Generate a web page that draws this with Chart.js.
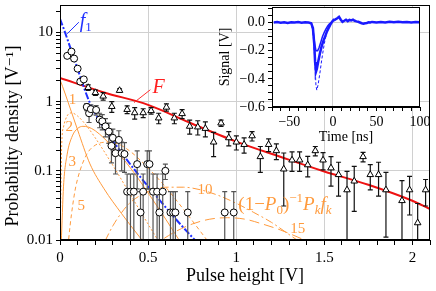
<!DOCTYPE html>
<html lang="en">
<head>
<meta charset="UTF-8">
<title>Pulse height distribution</title>
<script src="https://cdn.jsdelivr.net/npm/chart.js"></script>
<style>
  body { margin: 0; background: #fff; }
  #wrap { position: relative; width: 436px; height: 291px; }
  #wrap canvas { position: absolute; left: 0; top: 0; }
</style>
</head>
<body>
<div id="wrap">
  <canvas id="main" width="436" height="291"></canvas>
  <canvas id="inset" width="436" height="291"></canvas>
</div>
<script>
// open circles with error bars
const circX = [0.041, 0.065, 0.080, 0.100, 0.115, 0.135, 0.152, 0.165, 0.175, 0.205, 0.225, 0.240, 0.258,
  0.277, 0.292, 0.300, 0.315, 0.334, 0.350, 0.366, 0.381, 0.400, 0.419, 0.438, 0.457, 0.472, 0.495,
  0.508, 0.528, 0.551, 0.564, 0.583, 0.598, 0.627, 0.642, 0.655, 0.725, 0.935, 0.986];
const circY = [4.6, 5.3, 4.2, 3.0, 1.95, 2.1, 0.84, 0.68, 0.78, 0.76, 0.55, 0.52, 0.44,
  0.37, 0.23, 0.30, 0.18, 0.28, 0.18, 0.175, 0.05, 0.05, 0.05, 0.125, 0.025, 0.05, 0.125,
  0.125, 0.05, 0.05, 0.025, 0.05, 0.1, 0.025, 0.025, 0.025, 0.025, 0.025, 0.025];
const circErr = [0, 0, 0, 0, 0, 0, 0.1, 0.18, 0.12, 0.12, 0.13, 0.13, 0.13,
  0.12, 0.1, 0.1, 0.09, 0.1, 0.08, 0.08, 0.04, 0.04, 0.04, 0.07, 0.025, 0.04, 0.07,
  0.07, 0.04, 0.04, 0.025, 0.04, 0.025, 0.025, 0.025, 0.025, 0.025, 0.025, 0.025];

// open triangles with error bars
const triX = [0.116, 0.160, 0.201, 0.245, 0.294, 0.338, 0.381, 0.424, 0.472, 0.517, 0.560, 0.604,
  0.649, 0.693, 0.736, 0.782, 0.825, 0.872, 0.914, 0.958, 1.001, 1.045, 1.090, 1.137, 1.184, 1.228,
  1.270, 1.317, 1.360, 1.406, 1.449, 1.493, 1.538, 1.581, 1.629, 1.670, 1.720, 1.761, 1.808, 1.850,
  1.941, 1.984, 2.030, 2.075];
const triY = [1.95, 1.6, 1.35, 1.2, 0.85, 1.45, 0.77, 0.69, 0.69, 0.74, 0.58, 0.83,
  0.58, 0.67, 0.44, 0.43, 0.41, 0.26, 0.49, 0.30, 0.26, 0.24, 0.32, 0.16, 0.24, 0.195,
  0.106, 0.143, 0.143, 0.122, 0.195, 0.143, 0.11, 0.088, 0.053, 0.071, 0.16, 0.088, 0.088, 0.053,
  0.037, 0.053, 0.0177, 0.053];
const triErr = [0.15, 0.15, 0.12, 0.15, 0.15, 0.08, 0.1, 0.13, 0.1, 0.08, 0.1, 0.1,
  0.1, 0.1, 0.1, 0.1, 0.1, 0.1, 0.05, 0.07, 0.06, 0.06, 0.05, 0.065, 0.05, 0.05,
  0.075, 0.045, 0.045, 0.04, 0.03, 0.04, 0.05, 0.045, 0.045, 0.045, 0.025, 0.035, 0.045, 0.042,
  0.035, 0.03, 0.016, 0.022];

// F (red) and f1 (blue)
const bigFX = [0, 0.25, 0.5, 0.75, 1.0, 1.25, 1.5, 1.75, 2.0, 2.1];
const bigFY = [2.2, 1.36, 0.9, 0.48, 0.265, 0.16, 0.098, 0.063, 0.037, 0.028];
const f1X = [0, 0.03, 0.1, 0.17, 0.25, 0.35, 0.45, 0.55, 0.65, 0.765];
const f1Y = [15.8, 9.8, 2.95, 0.955, 0.417, 0.182, 0.085, 0.042, 0.021, 0.01];

// orange components (1-P0)^-1 Pk fk
const k1X = [0, 0.03, 0.1, 0.17, 0.25, 0.35, 0.45, 0.55];
const k1Y = [2.09, 1.29, 0.39, 0.126, 0.055, 0.024, 0.0112, 0.0055];
const k2X = [0.0003, 0.01, 0.02, 0.04, 0.065, 0.1, 0.15, 0.2, 0.3, 0.4, 0.5, 0.6];
const k2Y = [0.009, 0.25, 0.43, 0.62, 0.69, 0.62, 0.45, 0.3, 0.12, 0.045, 0.017, 0.0065];
const k3X = [0.007, 0.02, 0.04, 0.07, 0.1, 0.13, 0.16, 0.2, 0.3, 0.4, 0.5, 0.6, 0.7];
const k3Y = [0.009, 0.06, 0.17, 0.32, 0.41, 0.44, 0.43, 0.38, 0.22, 0.11, 0.048, 0.02, 0.008];
const k5X = [0.04, 0.05, 0.08, 0.1, 0.15, 0.2, 0.27, 0.33, 0.4, 0.5, 0.6, 0.7, 0.8, 0.9];
const k5Y = [0.0051, 0.0107, 0.0433, 0.0767, 0.17, 0.235, 0.26, 0.245, 0.19, 0.11, 0.058, 0.028, 0.013, 0.006];
const k10X = [0.22, 0.25, 0.3, 0.35, 0.4, 0.5, 0.6, 0.7, 0.8, 0.9, 1.0, 1.1, 1.2, 1.3, 1.4];
const k10Y = [0.006, 0.009, 0.016, 0.025, 0.035, 0.05, 0.058, 0.058, 0.053, 0.044, 0.034, 0.025, 0.018, 0.012, 0.008];
const k15X = [0.45, 0.55, 0.65, 0.75, 0.85, 0.95, 1.05, 1.15, 1.25, 1.35, 1.45, 1.55];
const k15Y = [0.006, 0.009, 0.013, 0.017, 0.02, 0.021, 0.02, 0.017, 0.014, 0.011, 0.0085, 0.0065];

// axis ticks
const xTicks = [0, 0.1, 0.2, 0.3, 0.4, 0.5, 0.6, 0.7, 0.8, 0.9, 1, 1.1, 1.2, 1.3, 1.4, 1.5, 1.6, 1.7, 1.8, 1.9, 2, 2.1];
const xLabels = { 0: '0', 0.5: '0.5', 1: '1', 1.5: '1.5', 2: '2' };
const yTicks = [0.01, 0.02, 0.03, 0.04, 0.05, 0.06, 0.07, 0.08, 0.09,
  0.1, 0.2, 0.3, 0.4, 0.5, 0.6, 0.7, 0.8, 0.9, 1, 2, 3, 4, 5, 6, 7, 8, 9, 10, 20];
const yLabels = { 0.01: '0.01', 0.1: '0.1', 1: '1', 10: '10' };

// inset: signal traces
const sigT = [-68, -64, -60, -56, -52, -48, -44, -40, -36, -32, -28, -25, -23, -21.5, -20.5, -19.5, -18.5,
  -17, -15, -13, -11, -9, -7, -5, -3, -1, 1, 3, 5, 7, 9, 11, 13, 15, 17, 19, 21, 23, 25, 27, 29, 31,
  33, 35, 37, 39, 41, 43, 45, 50, 55, 60, 65, 70, 75, 80, 85, 90, 95, 100];
const sigV = [0, 0.003, -0.002, 0.002, -0.003, 0.002, 0, 0.003, -0.002, 0.002, 0, -0.005, -0.04, -0.15, -0.28, -0.35, -0.33,
  -0.28, -0.22, -0.17, -0.13, -0.10, -0.065, -0.04, -0.015, 0.005, 0.02, 0.022, 0.03, 0.04, 0.02, 0.005, 0.012, 0.02, 0.01, 0.018, 0.015, 0.02, 0.012, 0.008, 0.005, 0,
  -0.005, -0.008, -0.005, -0.003, 0.002, 0, 0.004, 0, 0.003, 0, 0.005, 0.002, 0.006, 0.002, 0.004, 0, 0.003, 0.002];
const sig2T = [-25, -23, -21, -19.5, -17.5, -16, -14, -12, -10, -8, -6, -4, -2, 0];
const sig2V = [0, -0.05, -0.15, -0.2, -0.2, -0.18, -0.14, -0.1, -0.07, -0.045, -0.025, -0.01, 0, 0.01];
const sig3T = [-25, -23, -21, -19.5, -18.5, -17, -15, -13, -11, -9, -7, -5, -3, -1, 1, 3];
const sig3V = [0, -0.06, -0.25, -0.45, -0.48, -0.44, -0.36, -0.27, -0.19, -0.12, -0.07, -0.03, -0.01, 0, 0.01, 0.015];
const insetXTicks = [-70, -60, -50, -40, -30, -20, -10, 0, 10, 20, 30, 40, 50, 60, 70, 80, 90, 100];
const insetYTicks = [-0.6, -0.55, -0.5, -0.45, -0.4, -0.35, -0.3, -0.25, -0.2, -0.15, -0.1, -0.05, 0, 0.05, 0.1];

const SERIF = '"Liberation Serif", "DejaVu Serif", serif';
Chart.defaults.font.family = SERIF;
Chart.defaults.color = '#000';

const ORANGE = '#ff9a3c';
const NONE = 'rgba(0,0,0,0)';
const pts = (xs, ys) => xs.map((x, i) => ({ x, y: ys[i] }));
const minus = v => (v < 0 ? '\u2212' : '') + Math.abs(v);
const noPad = s => { s.paddingTop = 0; s.paddingBottom = 0; s.paddingLeft = 0; s.paddingRight = 0; };

function lineSet(xs, ys, color, width, dash, order, smooth) {
  return {
    data: pts(xs, ys), showLine: true, borderColor: color, borderWidth: width,
    borderDash: dash, pointRadius: 0, fill: false, order,
    cubicInterpolationMode: smooth ? 'monotone' : 'default'
  };
}

function drawRich(ctx, x, y, parts, color) {
  ctx.save();
  ctx.fillStyle = color;
  ctx.textAlign = 'left';
  ctx.textBaseline = 'alphabetic';
  for (const [txt, size, italic, dy] of parts) {
    ctx.font = (italic ? 'italic ' : '') + size + 'px ' + SERIF;
    ctx.fillText(txt, x, y + dy);
    x += ctx.measureText(txt).width;
  }
  ctx.restore();
}

const frame = {
  id: 'frame',
  afterDraw(chart) {
    const { ctx, chartArea: a } = chart;
    ctx.save();
    ctx.strokeStyle = '#000';
    ctx.lineWidth = 1;
    ctx.strokeRect(Math.round(a.left) + 0.5, Math.round(a.top) + 0.5,
      Math.round(a.right - a.left) - 1, Math.round(a.bottom - a.top) - 1);
    ctx.restore();
  }
};

const errBars = {
  id: 'errBars',
  beforeDatasetDraw(chart, args) {
    let xs, ys, es, color;
    if (args.index === 0) { xs = circX; ys = circY; es = circErr; color = '#555'; }
    else if (args.index === 1) { xs = triX; ys = triY; es = triErr; color = '#111'; }
    else return;
    const { ctx, chartArea: a, scales: { x, y } } = chart;
    ctx.save();
    ctx.beginPath();
    ctx.rect(a.left, a.top, a.right - a.left, a.bottom - a.top);
    ctx.clip();
    ctx.strokeStyle = color;
    ctx.lineWidth = 1.2;
    xs.forEach((xv, i) => {
      if (!es[i]) return;
      const px = x.getPixelForValue(xv);
      const lo = ys[i] - es[i];
      const pLo = lo > 0.0101 ? y.getPixelForValue(lo) : a.bottom + 2;
      const pHi = y.getPixelForValue(ys[i] + es[i]);
      ctx.beginPath();
      ctx.moveTo(px, pLo); ctx.lineTo(px, pHi);
      ctx.moveTo(px - 2.5, pHi); ctx.lineTo(px + 2.5, pHi);
      if (lo > 0.0101) { ctx.moveTo(px - 2.5, pLo); ctx.lineTo(px + 2.5, pLo); }
      ctx.stroke();
    });
    ctx.restore();
  }
};

const labels = {
  id: 'labels',
  afterDatasetsDraw(chart) {
    const { ctx, scales: { x, y } } = chart;
    const X = v => x.getPixelForValue(v), Y = v => y.getPixelForValue(v);
    // leaders
    ctx.save();
    ctx.lineWidth = 1;
    ctx.strokeStyle = '#2233ff';
    ctx.beginPath(); ctx.moveTo(X(0.041), Y(9.6)); ctx.lineTo(X(0.107), Y(14.1)); ctx.stroke();
    ctx.strokeStyle = '#ff3030';
    ctx.beginPath(); ctx.moveTo(X(0.42), Y(0.97)); ctx.lineTo(X(0.513), Y(1.49)); ctx.stroke();
    ctx.restore();
    drawRich(ctx, X(0.112), Y(12), [['f', 20, true, 0], ['1', 13, false, 4]], '#2233ff');
    drawRich(ctx, X(0.525), Y(1.32), [['F', 20, true, 0]], '#ff2020');
    const o = [[0.049, 0.92, '1'], [0.031, 0.376, '2'], [0.048, 0.119, '3'], [0.1, 0.0268, '5'],
      [0.78, 0.047, '10'], [1.307, 0.0126, '15']];
    o.forEach(([a, b, t]) => drawRich(ctx, X(a), Y(b), [[t, 15, false, 0]], ORANGE));
    drawRich(ctx, X(1.012), Y(0.0268), [
      ['(1\u2212', 19, false, 0], ['P', 19, true, 0], ['0', 13, false, 4], [')', 19, false, 0],
      ['\u22121', 13, false, -8], ['P', 19, true, 0], ['k', 13, true, 4], ['f', 19, true, 0], ['k', 13, true, 4]
    ], ORANGE);
  }
};

new Chart(document.getElementById('main'), {
  type: 'scatter',
  data: {
    datasets: [
      { data: pts(circX, circY), pointStyle: 'circle', pointRadius: 3.5, pointBackgroundColor: '#fff',
        pointBorderColor: '#000', pointBorderWidth: 1, order: 0 },
      { data: pts(triX, triY), pointStyle: 'triangle', pointRadius: 3.8, pointBackgroundColor: '#fff',
        pointBorderColor: '#000', pointBorderWidth: 1, order: 1 },
      lineSet(f1X, f1Y, '#1f2fff', 2, [7, 2, 2, 2], 2, true),
      lineSet(bigFX, bigFY, '#ee1111', 2, [], 3, true),
      lineSet(k1X, k1Y, ORANGE, 1, [], 4, true),
      lineSet(k2X, k2Y, ORANGE, 1, [2, 2], 5, true),
      lineSet(k3X, k3Y, ORANGE, 1, [], 6, true),
      lineSet(k5X, k5Y, ORANGE, 1, [4, 3], 7, true),
      lineSet(k10X, k10Y, ORANGE, 1, [8, 3, 2, 3], 8, true),
      lineSet(k15X, k15Y, ORANGE, 1, [10, 5], 9, true)
    ]
  },
  options: {
    responsive: false,
    animation: false,
    layout: { padding: { left: 0, top: 3, right: 6, bottom: 0 } },
    plugins: { legend: { display: false }, tooltip: { enabled: false } },
    scales: {
      x: {
        type: 'linear', min: 0, max: 2.1, bounds: 'data',
        afterBuildTicks: s => { s.ticks = xTicks.map(v => ({ value: v })); },
        afterFit: s => { s.height = 51; noPad(s); },
        grid: {
          color: c => (c.tick && xLabels[c.tick.value] && c.tick.value > 0) ? '#d0d0d0' : NONE,
          tickColor: '#000', tickLength: 5
        },
        border: { color: '#000' },
        ticks: { autoSkip: false, maxRotation: 0, padding: 4, font: { size: 15 },
          callback: v => xLabels[v] || '' },
        title: { display: true, text: 'Pulse height [V]', font: { size: 18 }, padding: { top: 0, bottom: 4 } }
      },
      y: {
        type: 'logarithmic', min: 0.01, max: 25, bounds: 'data',
        afterBuildTicks: s => { s.ticks = yTicks.map(v => ({ value: v })); },
        afterFit: s => { s.width = 60; noPad(s); },
        grid: {
          color: c => (c.tick && yLabels[c.tick.value] && c.tick.value > 0.01) ? '#d0d0d0' : NONE,
          tickColor: '#000', tickLength: 4
        },
        border: { color: '#000' },
        ticks: { autoSkip: false, padding: 3, font: { size: 15 }, callback: v => yLabels[v] || '' },
        title: { display: true, text: 'Probability density [V\u207B\u00B9]\u2002\u2002\u2002',
          font: { size: 18 }, padding: { top: 2, bottom: 0 } }
      }
    }
  },
  plugins: [errBars, labels, frame]
});

const whiteArea = {
  id: 'whiteArea',
  beforeDraw(chart) {
    const { ctx, chartArea: a } = chart;
    ctx.save();
    ctx.fillStyle = '#fff';
    ctx.fillRect(a.left, a.top, a.right - a.left, a.bottom - a.top);
    ctx.restore();
  }
};

new Chart(document.getElementById('inset'), {
  type: 'scatter',
  data: {
    datasets: [
      lineSet(sigT, sigV, '#1a1aff', 2.5, [], 0, false),
      lineSet(sig2T, sig2V, '#1a1aff', 1.5, [], 1, false),
      lineSet(sig3T, sig3V, '#1a1aff', 1, [3, 2], 2, false)
    ]
  },
  options: {
    responsive: false,
    animation: false,
    layout: { padding: { left: 217, top: 7, right: 16, bottom: 144 } },
    plugins: { legend: { display: false }, tooltip: { enabled: false } },
    scales: {
      x: {
        type: 'linear', min: -70, max: 100, bounds: 'data',
        afterBuildTicks: s => { s.ticks = insetXTicks.map(v => ({ value: v })); },
        afterFit: s => { s.height = 40; noPad(s); },
        grid: { color: c => (c.tick && c.tick.value === 0) ? '#d0d0d0' : NONE, tickColor: '#000', tickLength: 4 },
        border: { color: '#000' },
        ticks: { autoSkip: false, maxRotation: 0, padding: 3, font: { size: 14 },
          callback: v => (v % 50 === 0 ? minus(v) : '') },
        title: { display: true, text: 'Time [ns]', font: { size: 14 }, padding: { top: 0, bottom: 1 } }
      },
      y: {
        type: 'linear', min: -0.6, max: 0.11, bounds: 'data',
        afterBuildTicks: s => { s.ticks = insetYTicks.map(v => ({ value: v })); },
        afterFit: s => { s.width = 55; noPad(s); },
        grid: { color: c => (c.tick && c.tick.value === 0) ? '#d0d0d0' : NONE, tickColor: '#000', tickLength: 4 },
        border: { color: '#000' },
        ticks: { autoSkip: false, padding: 3, font: { size: 14 },
          callback: v => ([-0.6, -0.4, -0.2, 0].includes(v) ? (v < 0 ? '\u2212' : '') + Math.abs(v).toFixed(1) : '') },
        title: { display: true, text: 'Signal [V]', font: { size: 14 }, padding: { top: 0, bottom: 0 } }
      }
    }
  },
  plugins: [whiteArea, frame]
});
</script>
</body>
</html>
